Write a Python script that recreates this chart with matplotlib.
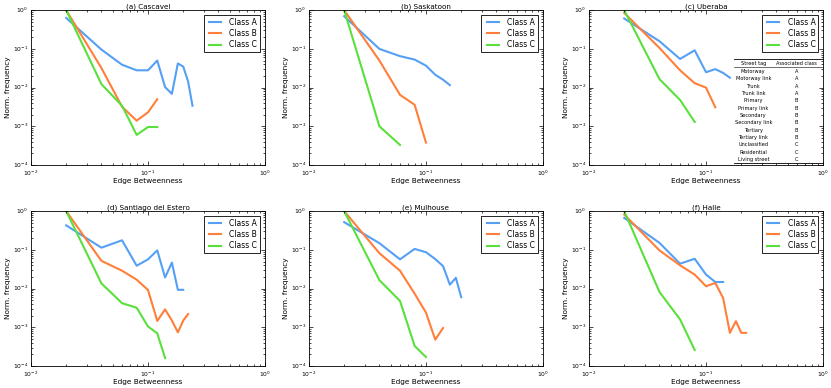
import numpy as np
import matplotlib
matplotlib.use('Agg')
import matplotlib.pyplot as plt

# edge betweenness bins
x_all = [0.02, 0.04, 0.06, 0.08, 0.10, 0.12, 0.14, 0.16, 0.18, 0.20, 0.22, 0.24]

titles = ['(a) Cascavel', '(b) Saskatoon', '(c) Uberaba',
          '(d) Santiago del Estero', '(e) Mulhouse', '(f) Halle']

class_a = [
    [0.63, 0.096, 0.039, 0.028, 0.028, 0.05, 0.0103, 0.0069, 0.042, 0.035, 0.0145, 0.0034],
    [0.70, 0.10, 0.065, 0.053, 0.037, 0.0215, 0.016, 0.0116],
    [0.61, 0.158, 0.055, 0.092, 0.025, 0.030, 0.024, 0.018],
    [0.43, 0.114, 0.177, 0.039, 0.057, 0.097, 0.0194, 0.047, 0.0093, 0.0093],
    [0.52, 0.149, 0.057, 0.106, 0.087, 0.058, 0.038, 0.0126, 0.019, 0.006],
    [0.67, 0.152, 0.044, 0.059, 0.023, 0.0148, 0.0148],
]
class_b = [
    [1.0, 0.032, 0.0032, 0.0014, 0.0023, 0.005],
    [1.0, 0.05, 0.0065, 0.0036, 0.00038],
    [0.85, 0.106, 0.028, 0.013, 0.010, 0.0031],
    [1.0, 0.052, 0.029, 0.017, 0.0092, 0.00146, 0.0029, 0.0015, 0.00074, 0.00149, 0.0022],
    [1.0, 0.082, 0.029, 0.0074, 0.0024, 0.00048, 0.00096],
    [0.82, 0.097, 0.040, 0.023, 0.0115, 0.014, 0.0057, 0.00072, 0.00144, 0.00072, 0.00072],
]
class_c = [
    [1.0, 0.0123, 0.0034, 0.0006, 0.00096, 0.00096],
    [1.0, 0.001, 0.00033],
    [1.0, 0.0166, 0.0048, 0.0013],
    [1.0, 0.0136, 0.0042, 0.0032, 0.00105, 0.0007, 0.00016],
    [1.0, 0.0165, 0.0048, 0.00033, 0.00017],
    [1.0, 0.0082, 0.0016, 0.00026],
]

labels = ['Class A', 'Class B', 'Class C']
colors = ['#55a0f5', '#ff7f3a', '#5ae03c']

street_tags = ['Motorway', 'Motorway link', 'Trunk', 'Trunk link', 'Primary',
               'Primary link', 'Secondary', 'Secondary link', 'Tertiary',
               'Tertiary link', 'Unclassified', 'Residential', 'Living street']
tag_class = ['A', 'A', 'A', 'A', 'B', 'B', 'B', 'B', 'B', 'B', 'C', 'C', 'C']

plt.style.use('classic')
plt.rcParams['font.family'] = 'DejaVu Sans'
plt.rcParams['mathtext.fontset'] = 'dejavusans'

fig = plt.figure(figsize=(8.31, 3.88), dpi=100, facecolor='white')

lefts = [0.0373, 0.3718, 0.7088]
bottoms = [0.5747, 0.0567]
w, h = 0.2816, 0.399

axes = []
for r in range(2):
    for c in range(3):
        axes.append(fig.add_axes([lefts[c], bottoms[r], w, h]))

for i, ax in enumerate(axes):
    series = [class_a[i], class_b[i], class_c[i]]
    for vals, lab, col in zip(series, labels, colors):
        ax.plot(x_all[:len(vals)], vals, color=col, lw=1.5, label=lab)
    ax.set_xscale('log')
    ax.set_yscale('log')
    ax.set_xlim(1e-2, 1)
    ax.set_ylim(1e-4, 1)
    ax.set_title(titles[i], fontsize=5.2, pad=1.5)
    ax.set_xlabel('Edge Betweenness', fontsize=5.3, labelpad=0.3)
    ax.set_ylabel('Norm. frequency', fontsize=5.3, labelpad=1)
    ax.tick_params(which='major', labelsize=4.3, length=3, width=0.5)
    ax.tick_params(axis='x', which='major', pad=2.5)
    ax.tick_params(axis='y', which='major', pad=2)
    ax.tick_params(which='minor', length=1.5, width=0.5)
    for s in ax.spines.values():
        s.set_linewidth(0.6)
    leg = ax.legend(loc='upper right', fontsize=5.5, handlelength=2.2,
                    borderpad=0.4, labelspacing=0.3, handletextpad=0.8,
                    borderaxespad=0.6)
    leg.get_frame().set_linewidth(0.6)

# street tag table inside panel (c)
ax = axes[2]
tx0, tx1 = 0.618, 1.0
top, hdr, bot = 0.682, 0.630, 0.013
for yy, lw in [(top, 0.6), (hdr, 0.4), (bot, 0.6)]:
    ax.plot([tx0, tx1], [yy, yy], color='black', lw=lw, transform=ax.transAxes,
            clip_on=False)
c1, c2 = 0.702, 0.887
ax.text(c1, 0.656, 'Street tag', fontsize=3.6, ha='center', va='center',
        transform=ax.transAxes)
ax.text(c2, 0.656, 'Associated class', fontsize=3.6, ha='center', va='center',
        transform=ax.transAxes)
row_top, row_bot = 0.604, 0.035
step = (row_top - row_bot) / (len(street_tags) - 1)
for k, (tag, cl) in enumerate(zip(street_tags, tag_class)):
    yy = row_top - k * step
    ax.text(c1, yy, tag, fontsize=3.6, ha='center', va='center', transform=ax.transAxes)
    ax.text(c2, yy, cl, fontsize=3.6, ha='center', va='center', transform=ax.transAxes)

fig.savefig('out.png', dpi=100, facecolor='white')
